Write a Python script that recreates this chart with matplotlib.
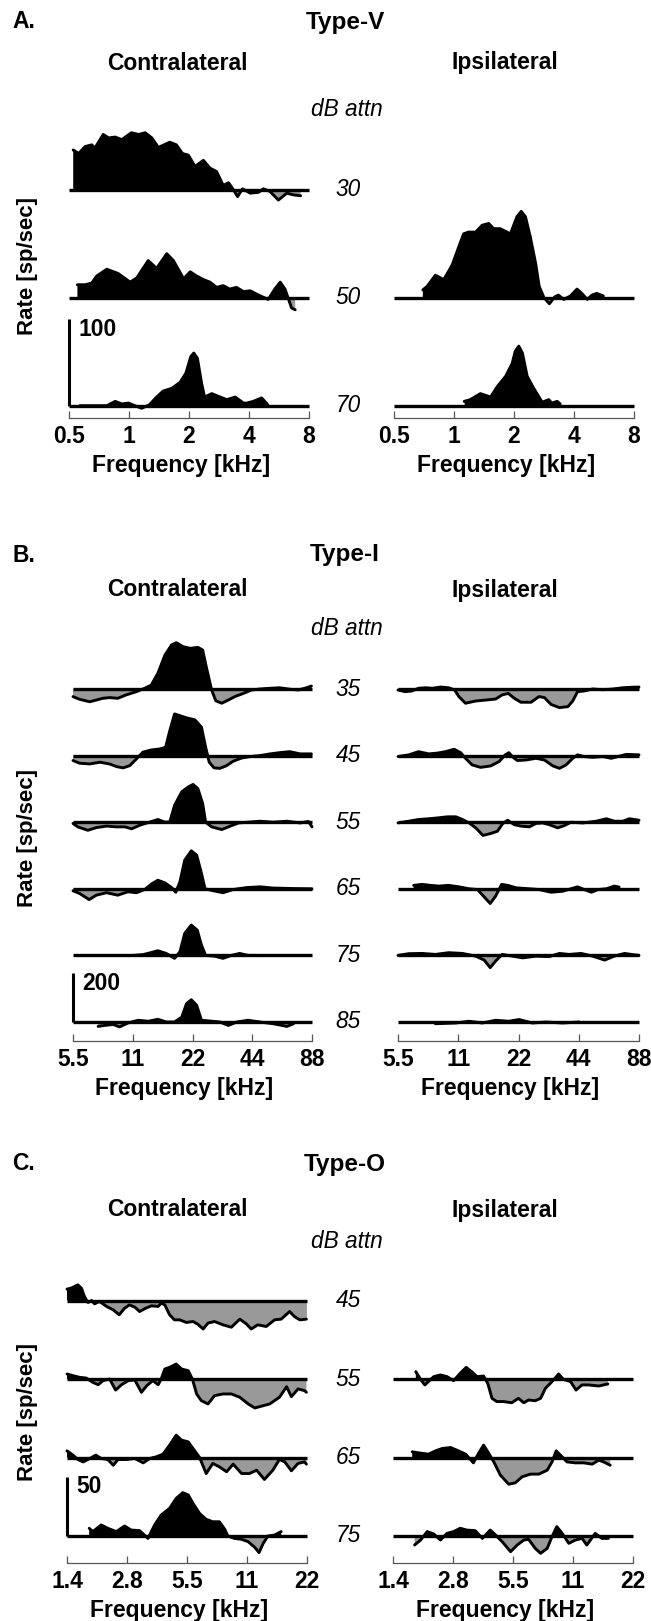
import numpy as np
import matplotlib
matplotlib.use("Agg")
import matplotlib.pyplot as plt

# x values: octaves above the lowest tick frequency, y values: rate re. spontaneous [sp/sec]

# ---- Panel A, Type-V (0.5 - 8 kHz) ----
a_levels = [30, 50, 70]
a_ticks = ["0.5", "1", "2", "4", "8"]

a_c30_x = [0.07, 0.16, 0.27, 0.38, 0.43, 0.57, 0.66, 0.77, 0.88, 1.04, 1.16, 1.27, 1.38, 1.49, 1.68, 1.79, 1.89, 1.99,
           2.10, 2.24, 2.35, 2.46, 2.57, 2.66, 2.74, 2.81, 2.89, 3.02, 3.16, 3.24, 3.35, 3.49, 3.63, 3.74, 3.86]
a_c30_y = [46, 42, 50, 52, 48, 64, 60, 61, 58, 66, 64, 66, 60, 49, 55, 52, 42, 40,
           27, 34, 25, 21, 5, 8, 0, -8, 1, -4, -3, 1, -2, -12, -4, -6, -7]
a_c50_x = [0.14, 0.27, 0.38, 0.46, 0.63, 0.82, 1.02, 1.13, 1.32, 1.46, 1.63, 1.74, 1.91, 2.02, 2.13, 2.24, 2.35, 2.46,
           2.57, 2.68, 2.79, 2.91, 3.02, 3.16, 3.32, 3.43, 3.52, 3.60, 3.66, 3.71, 3.77]
a_c50_y = [15, 15, 17, 25, 33, 28, 18, 23, 43, 34, 51, 43, 22, 30, 25, 21, 18, 12,
           14, 10, 12, 7, 8, 3, -2, 10, 18, 10, -2, -12, -14]
a_c70_x = [0.18, 0.63, 0.77, 0.88, 0.99, 1.10, 1.21, 1.34, 1.46, 1.57, 1.71, 1.85, 1.95, 2.03, 2.08, 2.14, 2.21, 2.26,
           2.38, 2.52, 2.63, 2.77, 2.91, 2.96, 3.07, 3.21, 3.29, 3.32]
a_c70_y = [0, 0, 5, 2, 3, 0, -3, 1, 10, 17, 20, 27, 38, 57, 61, 55, 26, 10,
           14, 10, 7, 10, 3, 3, 5, 9, 3, 0]
a_i50_x = [0.48, 0.55, 0.69, 0.83, 0.97, 1.08, 1.16, 1.24, 1.36, 1.47, 1.58, 1.66, 1.77, 1.94, 2.05, 2.12, 2.19, 2.27,
           2.36, 2.42, 2.50, 2.59, 2.68, 2.74, 2.83, 2.94, 3.05, 3.13, 3.22, 3.30, 3.38, 3.49]
a_i50_y = [9, 13, 26, 21, 38, 59, 74, 76, 76, 84, 86, 80, 80, 74, 94, 100, 94, 71,
           40, 13, 0, -7, 1, 3, -2, 2, 10, 5, -2, 3, 5, 2]
a_i70_x = [1.17, 1.27, 1.44, 1.61, 1.72, 1.86, 1.97, 2.02, 2.08, 2.14, 2.22, 2.33, 2.47, 2.58, 2.63, 2.72, 2.77]
a_i70_y = [5, 7, 14, 10, 22, 34, 49, 63, 69, 61, 34, 20, 4, 7, 3, 5, 2]

# ---- Panel B, Type-I (5.5 - 88 kHz) ----
b_levels = [35, 45, 55, 65, 75, 85]
b_ticks = ["5.5", "11", "22", "44", "88"]

b_c35_x = [0.0, 0.11, 0.28, 0.39, 0.50, 0.61, 0.75, 0.89, 1.06, 1.20, 1.31, 1.42, 1.54, 1.65, 1.73, 1.84, 1.96, 2.09,
           2.17, 2.23, 2.32, 2.39, 2.49, 2.60, 2.71, 2.85, 2.99, 3.13, 3.30, 3.46, 3.63, 3.77, 3.91, 3.99]
b_c35_y = [-31, -42, -52, -45, -38, -35, -38, -24, -11, 3, 16, 64, 139, 180, 189, 173, 166, 170,
           159, 91, -4, -48, -58, -45, -31, -18, -4, 0, 3, 5, -1, -4, 5, 12]
b_c45_x = [0.0, 0.11, 0.28, 0.45, 0.61, 0.73, 0.84, 0.95, 1.06, 1.17, 1.31, 1.45, 1.55, 1.62, 1.70, 1.79, 1.90, 2.04,
           2.15, 2.22, 2.28, 2.36, 2.46, 2.57, 2.68, 2.82, 2.96, 3.13, 3.30, 3.46, 3.63, 3.80, 3.99]
b_c45_y = [-20, -31, -34, -27, -34, -45, -50, -41, -14, 14, 23, 27, 34, 102, 170, 163, 154, 146,
           116, 34, -27, -50, -52, -41, -23, -10, -4, 0, 7, 12, 16, 7, 7]
b_c55_x = [0.0, 0.08, 0.25, 0.39, 0.56, 0.73, 0.87, 0.98, 1.12, 1.28, 1.42, 1.54, 1.62, 1.70, 1.82, 1.93, 2.01, 2.09,
           2.17, 2.22, 2.32, 2.49, 2.63, 2.77, 2.93, 3.13, 3.35, 3.58, 3.80, 3.94, 4.0]
b_c55_y = [-5, -19, -33, -22, -16, -19, -19, -27, -12, 0, 11, 0, 1, 69, 124, 144, 154, 137,
           76, 0, -19, -30, -16, -3, 0, 4, 0, 4, -3, 3, -19]
b_c65_x = [0.0, 0.11, 0.27, 0.39, 0.56, 0.75, 0.92, 1.06, 1.20, 1.31, 1.42, 1.54, 1.65, 1.72, 1.79, 1.87, 1.98, 2.07,
           2.15, 2.21, 2.35, 2.51, 2.68, 2.91, 3.13, 3.35, 3.69, 4.0]
b_c65_y = [-8, -19, -44, -26, -16, -26, -12, -16, -3, 19, 35, 24, 5, -14, 29, 117, 155, 137,
           63, 0, -8, -16, -3, 5, 8, 3, 1, 0]
b_c75_x = [1.01, 1.17, 1.30, 1.42, 1.56, 1.70, 1.79, 1.87, 1.98, 2.08, 2.15, 2.22, 2.37, 2.51, 2.65, 2.79, 2.93, 3.07]
b_c75_y = [0, 3, 11, 19, 8, -12, 15, 90, 124, 103, 42, 0, -3, -12, 0, 8, 0, 0]
b_c85_x = [0.42, 0.53, 0.67, 0.78, 0.92, 1.09, 1.26, 1.42, 1.56, 1.70, 1.82, 1.90, 1.98, 2.07, 2.15, 2.29, 2.46, 2.60,
           2.74, 2.93, 3.13, 3.35, 3.58, 3.69]
b_c85_y = [-18, -14, -10, -20, -4, 7, 3, 11, 0, 0, 20, 75, 91, 68, 7, 4, 0, -14,
           0, 7, 0, -7, -18, -7]

b_i35_x = [0.0, 0.12, 0.23, 0.34, 0.46, 0.57, 0.71, 0.84, 0.94, 1.01, 1.12, 1.29, 1.46, 1.62, 1.73, 1.83, 1.93, 2.04,
           2.21, 2.34, 2.43, 2.54, 2.68, 2.82, 2.90, 2.98, 3.09, 3.23, 3.40, 3.57, 3.73, 3.87, 4.0]
b_i35_y = [-4, -11, -8, 3, 5, 3, 8, 5, -4, -31, -58, -49, -45, -41, -24, -18, -38, -54,
           -54, -31, -35, -63, -76, -72, -49, -11, -8, 0, -3, 0, 5, 7, 8]
b_i45_x = [0.0, 0.18, 0.34, 0.51, 0.65, 0.79, 0.93, 1.04, 1.12, 1.23, 1.37, 1.54, 1.68, 1.78, 1.84, 1.91, 1.98, 2.12,
           2.29, 2.43, 2.57, 2.68, 2.79, 2.90, 2.98, 3.09, 3.23, 3.40, 3.54, 3.65, 3.79, 4.0]
b_i45_y = [-4, 3, 16, 7, 10, 16, 26, 12, -11, -38, -48, -42, -24, 3, 12, -7, -20, -18,
           -11, -18, -42, -52, -38, -11, 3, -4, -7, -4, -11, -4, 5, 3]
b_i55_x = [0.0, 0.18, 0.34, 0.51, 0.68, 0.82, 0.96, 1.07, 1.18, 1.29, 1.41, 1.54, 1.65, 1.74, 1.82, 1.93, 2.04, 2.18,
           2.29, 2.40, 2.51, 2.65, 2.76, 2.87, 3.07, 3.29, 3.46, 3.59, 3.73, 3.84, 4.0]
b_i55_y = [-3, 4, 11, 14, 18, 22, 22, 11, -3, -23, -54, -46, -37, -5, 8, -10, -16, -19,
           -5, -3, -10, -23, -14, 0, -3, 4, 14, 4, 4, 14, 8]
b_i65_x = [0.26, 0.40, 0.54, 0.68, 0.84, 1.01, 1.18, 1.32, 1.43, 1.53, 1.62, 1.72, 1.82, 1.96, 2.18, 2.34, 2.54, 2.73,
           2.87, 2.98, 3.09, 3.21, 3.32, 3.46, 3.59, 3.67]
b_i65_y = [14, 18, 14, 11, 14, 8, 0, -3, -33, -60, -30, 18, 14, 4, 0, -3, -14, -10,
           0, 8, -3, -14, -3, 0, 11, 7]
b_i75_x = [0.0, 0.18, 0.40, 0.62, 0.84, 1.07, 1.29, 1.43, 1.53, 1.62, 1.73, 1.90, 2.07, 2.29, 2.51, 2.68, 2.84, 3.04,
           3.23, 3.43, 3.59, 3.76, 3.90, 4.0]
b_i75_y = [0, 7, 8, 4, 11, 8, -3, -19, -50, -23, 4, -3, -10, -3, -5, 8, 4, 8,
           -3, -19, -3, 8, 3, 0]
b_i85_x = [0.62, 0.96, 1.18, 1.40, 1.62, 1.84, 2.01, 2.23, 2.46, 2.73, 3.01]
b_i85_y = [-7, -4, 3, -4, 7, 3, 10, -4, 0, -4, 0]

# ---- Panel C, Type-O (1.4 - 22 kHz) ----
c_levels = [45, 55, 65, 75]
c_ticks = ["1.4", "2.8", "5.5", "11", "22"]

c_c45_x = [0.0, 0.07, 0.18, 0.24, 0.29, 0.35, 0.41, 0.46, 0.54, 0.66, 0.77, 0.87, 0.96, 1.04, 1.13, 1.21, 1.31, 1.41,
           1.52, 1.57, 1.63, 1.71, 1.79, 1.88, 1.99, 2.10, 2.18, 2.27, 2.35, 2.46, 2.60, 2.74, 2.88, 2.99, 3.07, 3.18,
           3.32, 3.46, 3.57, 3.71, 3.79, 3.88, 3.99]
c_c45_y = [9.6, 10.4, 13.2, 10.4, 3.4, -1.7, 0, -2.8, -0.8, -5, -7.9, -12, -6.5, -3.7, -5.6, -9.3, -6.5, -4.5,
           -5, -2.2, -3.7, -12, -16.3, -16.3, -18.5, -17.7, -20, -24, -19, -17.7, -20.5, -22.5, -15.7, -19.7, -24, -20.5,
           -21.9, -16.3, -15.7, -9.3, -13.5, -16.3, -15.7]
c_c55_x = [0.0, 0.10, 0.21, 0.32, 0.43, 0.52, 0.60, 0.71, 0.81, 0.91, 1.02, 1.13, 1.24, 1.33, 1.43, 1.52, 1.57, 1.63,
           1.71, 1.82, 1.91, 2.02, 2.09, 2.16, 2.24, 2.35, 2.46, 2.60, 2.74, 2.88, 3.02, 3.13, 3.27, 3.38, 3.54, 3.66,
           3.74, 3.85, 3.96, 3.99]
c_c55_y = [4.2, 2.8, 1.4, 0.8, -2.8, -4.8, -1.4, 0, -9.3, -4.8, -1.4, -0.8, -11.2, -5.6, -1.4, -4.8, 0, 8.4,
           9.8, 12.6, 8.4, 7, 0, -12.6, -18.3, -21, -14, -12.6, -12.6, -15.4, -21, -24.4, -22.5, -21, -15.4, -6.5,
           -14.9, -8.4, -9.8, -11.2]
c_c65_x = [0.0, 0.10, 0.18, 0.27, 0.38, 0.48, 0.57, 0.68, 0.77, 0.85, 0.99, 1.13, 1.27, 1.38, 1.49, 1.60, 1.71, 1.82,
           1.91, 2.02, 2.10, 2.21, 2.32, 2.43, 2.54, 2.66, 2.77, 2.91, 3.04, 3.16, 3.29, 3.43, 3.54, 3.63, 3.74, 3.85,
           3.96, 3.99]
c_c65_y = [5.6, 2, -1.7, -3.7, -0.8, 2, -0.8, -1.7, -6.5, -1.7, -1.7, -0.8, -4.5, -0.8, 0.6, 2.8, 10.4, 18.8,
           14.6, 13.2, 7.6, 0, -13.5, -5, -7.9, -12, -5.6, -13.5, -13.5, -10.7, -18.5, -10.7, -1.7, -3.7, -11.2, -5,
           -3.7, -5.6]
c_c75_x = [0.37, 0.43, 0.57, 0.68, 0.82, 0.96, 1.07, 1.21, 1.35, 1.46, 1.57, 1.71, 1.82, 1.93, 2.02, 2.10, 2.21, 2.32,
           2.43, 2.54, 2.63, 2.68, 2.79, 2.91, 3.02, 3.13, 3.20, 3.27, 3.35, 3.46, 3.57]
c_c75_y = [6.5, 3.7, 9.3, 6.5, 3.7, 8.4, 5, 4.5, -2, 9.3, 17.7, 23.3, 31.7, 36.5, 34.6, 27.5, 19, 14,
           12, 12, 5.6, 0, -2, -2.8, -4.8, -9.6, -14, -6.2, 0, 0.8, 3.7]

c_i55_x = [0.38, 0.46, 0.53, 0.59, 0.68, 0.79, 0.90, 1.01, 1.12, 1.22, 1.31, 1.40, 1.51, 1.58, 1.65, 1.73, 1.84, 1.98,
           2.09, 2.18, 2.26, 2.37, 2.46, 2.54, 2.65, 2.76, 2.84, 2.96, 3.05, 3.15, 3.26, 3.43, 3.58]
c_i55_y = [6.2, -0.3, -5, -2.2, 2, 3.4, 2, -1.4, 4.8, 9.8, 6.2, 2, 2.5, -3.7, -16.3, -19, -19, -20,
           -16.3, -20, -17.7, -18.3, -16.3, -7.9, -2.2, 4.2, -0.3, -2.2, -9.3, -5, -5, -5.9, -4.2]
c_i65_x = [0.32, 0.43, 0.59, 0.71, 0.82, 0.96, 1.09, 1.21, 1.34, 1.43, 1.51, 1.58, 1.68, 1.79, 1.93, 2.04, 2.15, 2.29,
           2.43, 2.57, 2.65, 2.72, 2.79, 2.90, 3.04, 3.18, 3.32, 3.43, 3.51, 3.62]
c_i65_y = [4.8, 3.9, 2.8, 5.6, 7.6, 8.4, 5.6, 2.8, -4.5, 3.9, 10.4, 4.8, -3.7, -14.9, -22.5, -21.3, -16.3, -14,
           -14, -10.7, -3.7, 5.6, 2, -3.7, -4.5, -4.5, -5.6, -2.2, -3.7, -6.5]
c_i75_x = [0.36, 0.46, 0.57, 0.68, 0.79, 0.90, 1.01, 1.12, 1.23, 1.37, 1.49, 1.62, 1.71, 1.82, 1.96, 2.07, 2.18, 2.26,
           2.37, 2.46, 2.57, 2.65, 2.73, 2.82, 2.93, 3.04, 3.15, 3.23, 3.37, 3.48, 3.59]
c_i75_y = [-7.6, -3.4, 3.7, 1.7, -3.4, 2.2, 3.7, 6.5, 5, 4.5, -2, 5, 0.8, -4.8, -13.2, -7.6, -3.4, -2.8,
           -10.4, -14.6, -10.4, -0.6, 7.9, 2.2, -6.2, -3.4, -2, -7.6, 2.2, -2, -2]


W, H = 651, 1621
plt.rcParams['font.family'] = ['Liberation Sans', 'DejaVu Sans']
FS = 16.5

fig = plt.figure(figsize=(W / 100, H / 100), dpi=100)


def ftext(x, y, s, **kw):
    fig.text(x / W, 1 - y / H, s, **kw)


def draw_trace(ax, x, y, off):
    x = np.asarray(x, float)
    y = np.asarray(y, float)
    ax.fill_between(x, off, off + y, where=y >= 0, interpolate=True, color='black', lw=0, clip_on=False)
    ax.fill_between(x, off, off + y, where=y <= 0, interpolate=True, color='#999999', lw=0, clip_on=False)
    ax.plot(x, off + y, color='black', lw=2.1, solid_joinstyle='round', solid_capstyle='round', clip_on=False)
    ax.plot([0, 4], [off, off], color='black', lw=2.4, solid_capstyle='butt', clip_on=False)


def draw_panel(letter, title, levels, con, ips, ticks, scale, con_x, ips_x,
               base, step, ppu, gap, y_head, y_side, y_db, y_rate):
    n = len(levels)
    top = y_db + 12
    axis_y = base + gap
    bot = axis_y + 45
    for (x0, x1), traces in ((con_x, con), (ips_x, ips)):
        ax = fig.add_axes([x0 / W, 1 - bot / H, (x1 - x0) / W, (bot - top) / H])
        ax.patch.set_visible(False)
        ax.set_xlim(0, 4)
        ax.set_ylim(-(bot - base) / ppu, (base - top) / ppu)
        for i, tr in enumerate(traces):
            if tr is not None:
                draw_trace(ax, tr[0], tr[1], (n - 1 - i) * step / ppu)
        for s in ('left', 'right', 'top'):
            ax.spines[s].set_visible(False)
        ax.spines['bottom'].set_position(('data', -gap / ppu))
        ax.spines['bottom'].set_color('#555555')
        ax.spines['bottom'].set_linewidth(0.9)
        ax.set_yticks([])
        ax.set_xticks(range(5))
        ax.set_xticklabels(ticks, fontweight='bold', fontsize=FS)
        ax.tick_params(axis='x', direction='in', length=5, width=0.9, color='#555555', pad=5)
        ftext((x0 + x1) / 2 - 8, axis_y + 48, 'Frequency [kHz]', ha='center', va='center',
              fontweight='bold', fontsize=FS)
        if traces is con:
            ax.plot([0, 0], [0, scale], color='black', lw=2.2, solid_capstyle='butt', clip_on=False)
            ax.annotate(str(scale), xy=(0, scale), xytext=(7, 1), textcoords='offset points',
                        ha='left', va='top', fontweight='bold', fontsize=FS)
    for i, lev in enumerate(levels):
        ftext(348, base - (n - 1 - i) * step, str(lev), ha='center', va='center',
              style='italic', fontsize=16.3)
    ftext(12, y_head, letter, ha='left', va='center', fontweight='bold', fontsize=FS)
    ftext(345, y_head, title, ha='center', va='center', fontweight='bold', fontsize=17.5)
    ftext(177, y_side, 'Contralateral', ha='center', va='center', fontweight='bold', fontsize=FS)
    ftext(505, y_side, 'Ipsilateral', ha='center', va='center', fontweight='bold', fontsize=FS)
    ftext(347, y_db, 'dB attn', ha='center', va='center', style='italic', fontsize=16.3)
    ftext(27, y_rate, 'Rate [sp/sec]', ha='center', va='center', rotation=90,
          fontweight='bold', fontsize=16)


draw_panel('A.', 'Type-V', a_levels,
           [(a_c30_x, a_c30_y), (a_c50_x, a_c50_y), (a_c70_x, a_c70_y)],
           [None, (a_i50_x, a_i50_y), (a_i70_x, a_i70_y)],
           a_ticks, 100, (69, 309), (394, 634),
           base=405.7, step=108, ppu=0.863, gap=12, y_head=22, y_side=63, y_db=110, y_rate=266)

draw_panel('B.', 'Type-I', b_levels,
           [(b_c35_x, b_c35_y), (b_c45_x, b_c45_y), (b_c55_x, b_c55_y),
            (b_c65_x, b_c65_y), (b_c75_x, b_c75_y), (b_c85_x, b_c85_y)],
           [(b_i35_x, b_i35_y), (b_i45_x, b_i45_y), (b_i55_x, b_i55_y),
            (b_i65_x, b_i65_y), (b_i75_x, b_i75_y), (b_i85_x, b_i85_y)],
           b_ticks, 200, (73, 312), (398, 639),
           base=1022, step=66.6, ppu=0.245, gap=19, y_head=555, y_side=590, y_db=628, y_rate=838)

draw_panel('C.', 'Type-O', c_levels,
           [(c_c45_x, c_c45_y), (c_c55_x, c_c55_y), (c_c65_x, c_c65_y), (c_c75_x, c_c75_y)],
           [None, (c_i55_x, c_i55_y), (c_i65_x, c_i65_y), (c_i75_x, c_i75_y)],
           c_ticks, 50, (67, 307), (393, 633),
           base=1536, step=78.5, ppu=1.187, gap=27, y_head=1164, y_side=1210, y_db=1242, y_rate=1412)

fig.savefig('out.png', dpi=100)
